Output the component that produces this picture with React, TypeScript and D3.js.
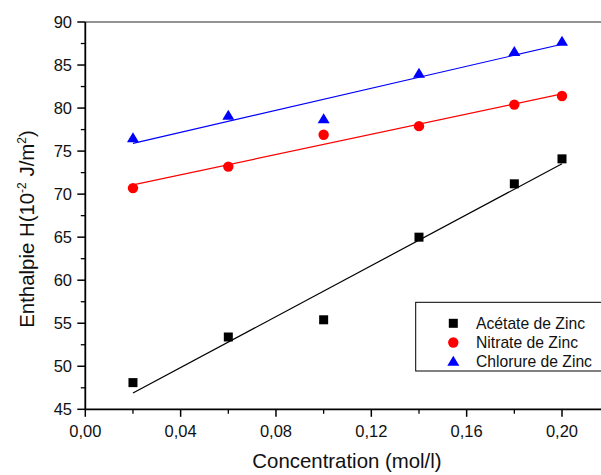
import React from "react";
import * as d3 from "d3";

const concentrations = [0.02, 0.06, 0.10, 0.14, 0.18, 0.20];
const acetate = [48.1, 53.4, 55.4, 65.0, 71.2, 74.1];
const nitrate = [70.7, 73.2, 76.9, 77.9, 80.4, 81.4];
const chlorure = [76.5, 79.1, 78.7, 84.0, 86.5, 87.7];
const xTicks = [0, 0.04, 0.08, 0.12, 0.16, 0.2];
const yTicks = [45, 50, 55, 60, 65, 70, 75, 80, 85, 90];
const seriesNames = ["Acétate de Zinc", "Nitrate de Zinc", "Chlorure de Zinc"];

const W = 601, H = 475;
const left = 85.3, right = 601, top = 22, bottom = 409.3;
const FONT = "Liberation Sans, Arial, sans-serif";

function fit(xs: number[], ys: number[]) {
  const mx = d3.mean(xs)!, my = d3.mean(ys)!;
  let sxx = 0, sxy = 0;
  xs.forEach((x, i) => { sxx += (x - mx) ** 2; sxy += (x - mx) * (ys[i] - my); });
  const b = sxy / sxx;
  return (x: number) => my + b * (x - mx);
}

export default function App() {
  const pxPerUnit = (562 - left) / 0.2;
  const x = d3.scaleLinear().domain([0, (right - left) / pxPerUnit]).range([left, right]);
  const y = d3.scaleLinear().domain([45, 90]).range([bottom, top]);
  const series = [
    { vals: acetate, color: "#000000", shape: "square" },
    { vals: nitrate, color: "#ff0000", shape: "circle" },
    { vals: chlorure, color: "#0000ff", shape: "triangle" },
  ];
  const marker = (shape: string, cx: number, cy: number, color: string, k: string) => {
    if (shape === "square") return <rect key={k} x={cx - 4.5} y={cy - 4.5} width={9} height={9} fill={color} />;
    if (shape === "circle") return <circle key={k} cx={cx} cy={cy} r={5.2} fill={color} />;
    return <path key={k} d={`M${cx},${cy - 6} L${cx + 6},${cy + 4} L${cx - 6},${cy + 4} Z`} fill={color} />;
  };
  const yMinor = d3.range(47.5, 90, 5);
  const xMinor = d3.range(0.02, 0.21, 0.04);
  const x0 = concentrations[0], x1 = concentrations[concentrations.length - 1];
  return (
    <svg width={W} height={H} style={{ position: "absolute", left: 0, top: 0 }} fontFamily={FONT}>
      <rect width={W} height={H} fill="#fff" />
      {series.map((s, i) => {
        const f = fit(concentrations, s.vals);
        return <line key={"l" + i} x1={x(x0)} y1={y(f(x0))} x2={x(x1)} y2={y(f(x1))} stroke={s.color} strokeWidth={1.2} />;
      })}
      {series.map((s, i) => s.vals.map((v, j) => marker(s.shape, x(concentrations[j]), y(v), s.color, `m${i}-${j}`)))}
      <line x1={left} y1={top} x2={right} y2={top} stroke="#6e6e6e" strokeWidth={1.5} />
      <line x1={left} y1={top} x2={left} y2={bottom} stroke="#000" strokeWidth={1.8} />
      <line x1={left} y1={bottom} x2={right} y2={bottom} stroke="#000" strokeWidth={1.8} />
      {yTicks.map((t) => (
        <g key={"yt" + t}>
          <line x1={left - 8} x2={left} y1={y(t)} y2={y(t)} stroke="#000" strokeWidth={1.5} />
          <text x={72} y={y(t) + 5.8} textAnchor="end" fontSize={16.5} fill="#111">{t}</text>
        </g>
      ))}
      {yMinor.map((t) => (
        <line key={"ym" + t} x1={left - 4.5} x2={left} y1={y(t)} y2={y(t)} stroke="#000" strokeWidth={1.3} />
      ))}
      {xTicks.map((t) => (
        <g key={"xt" + t}>
          <line x1={x(t)} x2={x(t)} y1={bottom} y2={bottom + 7.5} stroke="#000" strokeWidth={1.5} />
          <text x={x(t)} y={436.5} textAnchor="middle" fontSize={16.5} fill="#111">{t.toFixed(2).replace(".", ",")}</text>
        </g>
      ))}
      {xMinor.map((t) => (
        <line key={"xm" + t} x1={x(t)} x2={x(t)} y1={bottom} y2={bottom + 4.5} stroke="#000" strokeWidth={1.3} />
      ))}
      <text x={347} y={468} textAnchor="middle" fontSize={20.4} fill="#111">Concentration (mol/l)</text>
      <text transform="translate(33.5,229) rotate(-90)" textAnchor="middle" fontSize={20.4} fill="#111">
        Enthalpie H(10<tspan fontSize={12} dy={-8}>-2</tspan><tspan dy={8}> J/m</tspan>
        <tspan fontSize={12} dy={-8}>2</tspan><tspan dy={8}>)</tspan>
      </text>
      <rect x={415.7} y={302.3} width={200} height={68.7} fill="#fff" stroke="#000" strokeWidth={1} />
      {series.map((s, i) => (
        <g key={"lg" + i}>
          {marker(s.shape, 453.3, 323.3 + i * 19.2, s.color, "lm" + i)}
          <text x={476} y={323.3 + i * 19.2 + 5.5} fontSize={15.7} fill="#111">{seriesNames[i]}</text>
        </g>
      ))}
    </svg>
  );
}
